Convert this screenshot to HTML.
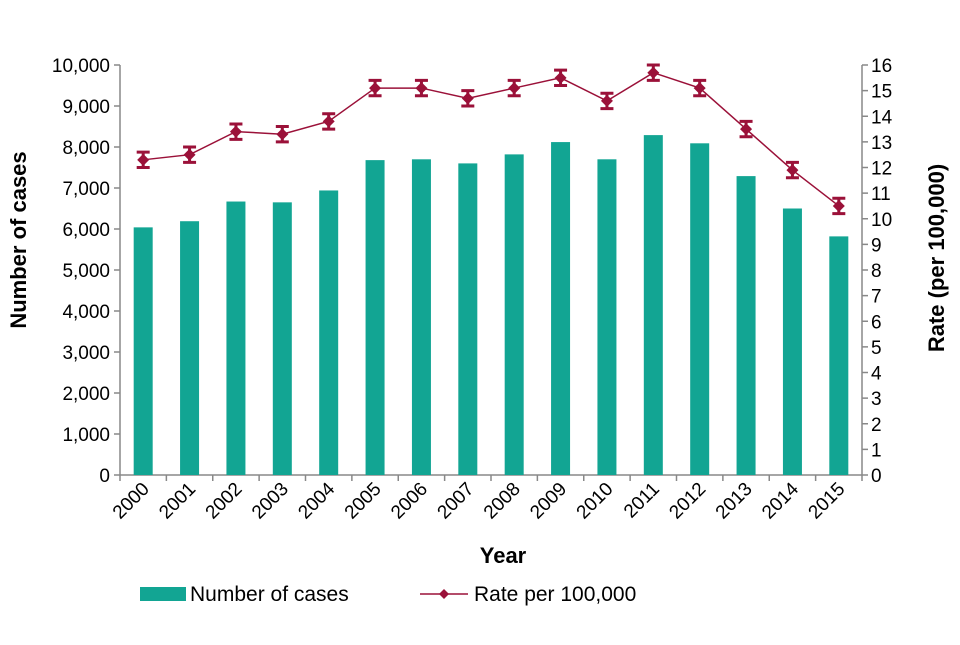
<!DOCTYPE html>
<html><head><meta charset="utf-8"><style>
body{margin:0;background:#fff;}
svg text{font-family:"Liberation Sans",Arial,sans-serif;fill:#000;}
</style></head><body>
<svg id="c" width="960" height="640" viewBox="0 0 960 640"></svg>
<script>
const years=["2000","2001","2002","2003","2004","2005","2006","2007","2008","2009","2010","2011","2012","2013","2014","2015"];
const cases=[6040,6190,6670,6650,6940,7680,7700,7600,7820,8120,7700,8290,8090,7290,6500,5820];
const rates=[12.3,12.5,13.4,13.3,13.8,15.1,15.1,14.7,15.1,15.5,14.6,15.7,15.1,13.5,11.9,10.5];
const rateErr=[0.3,0.3,0.3,0.3,0.3,0.3,0.3,0.3,0.3,0.3,0.3,0.3,0.3,0.3,0.3,0.3];
const leftTicks=[0,1000,2000,3000,4000,5000,6000,7000,8000,9000,10000];
const rightTicks=[0,1,2,3,4,5,6,7,8,9,10,11,12,13,14,15,16];
const NS="http://www.w3.org/2000/svg";
const svg=document.getElementById('c');
const X0=120,X1=862,Y0=475,Y1=65;
const bw=(X1-X0)/years.length;
const xc=i=>X0+bw*(i+0.5);
const yL=v=>Y0-(v/10000)*(Y0-Y1);
const yR=v=>Y0-(v/16)*(Y0-Y1);
const RED='#9b1139';
function el(t,a,txt){const e=document.createElementNS(NS,t);for(const k in a)e.setAttribute(k,a[k]);if(txt!==undefined)e.textContent=txt;svg.appendChild(e);return e;}
const fmt=v=>v.toLocaleString('en-US');
let e;
e=el('line',{x1:X0,y1:Y1,x2:X0,y2:Y0,stroke:'#888','stroke-width':1.5});

e=el('line',{x1:X1,y1:Y1,x2:X1,y2:Y0,stroke:'#888','stroke-width':1.5});

e=el('line',{x1:X0,y1:Y0,x2:X1,y2:Y0,stroke:'#888','stroke-width':1.5});

leftTicks.forEach(v=>{
  el('line',{x1:X0-6,y1:yL(v),x2:X0,y2:yL(v),stroke:'#888','stroke-width':1.5});
  e=el('text',{x:X0-10,y:yL(v)+7,'text-anchor':'end','font-size':19},fmt(v));
  
});
rightTicks.forEach(v=>{
  el('line',{x1:X1,y1:yR(v),x2:X1+6,y2:yR(v),stroke:'#888','stroke-width':1.5});
  e=el('text',{x:X1+9,y:yR(v)+7,'text-anchor':'start','font-size':19},String(v));
  
});
years.forEach((y,i)=>{
  el('line',{x1:X0+bw*i,y1:Y0,x2:X0+bw*i,y2:Y0+6,stroke:'#888','stroke-width':1.5});
  e=el('text',{x:0,y:0,'text-anchor':'end','font-size':19,transform:`translate(${xc(i)+7},${Y0+15}) rotate(-45)`},y);
  
});
el('line',{x1:X1,y1:Y0,x2:X1,y2:Y0+6,stroke:'#888','stroke-width':1.5});
cases.forEach((v,i)=>{
  e=el('rect',{x:xc(i)-9.5,y:yL(v),width:19,height:Y0-yL(v),fill:'#12a593'});
  
});
const pts=rates.map((r,i)=>xc(i)+','+yR(r)).join(' ');
e=el('polyline',{points:pts,fill:'none',stroke:RED,'stroke-width':1.5});

rates.forEach((r,i)=>{
  const x=xc(i),t=yR(r+rateErr[i]),b=yR(r-rateErr[i]);
  e=el('path',{d:`M${x},${t}V${b}M${x-6.5},${t}H${x+6.5}M${x-6.5},${b}H${x+6.5}`,stroke:RED,'stroke-width':3,fill:'none'});
  
  const y=yR(r);
  e=el('path',{d:`M${x},${y-6}L${x+6},${y}L${x},${y+6}L${x-6},${y}Z`,fill:RED});
  
});
e=el('text',{x:0,y:0,'text-anchor':'middle','font-size':22,'font-weight':'bold',transform:'translate(26,240) rotate(-90)'},'Number of cases');

e=el('text',{x:0,y:0,'text-anchor':'middle','font-size':22,'font-weight':'bold',transform:'translate(944,258) rotate(-90)'},'Rate (per 100,000)');

e=el('text',{x:503,y:563,'text-anchor':'middle','font-size':22,'font-weight':'bold'},'Year');

e=el('rect',{x:140,y:587,width:46,height:14,fill:'#12a593'});

e=el('text',{x:190,y:601,'font-size':21},'Number of cases');

e=el('line',{x1:420,y1:594,x2:468,y2:594,stroke:RED,'stroke-width':1.5});

e=el('path',{d:'M444,589L449,594L444,599L439,594Z',fill:RED});

e=el('text',{x:474,y:601,'font-size':21},'Rate per 100,000');

</script>
</body></html>
